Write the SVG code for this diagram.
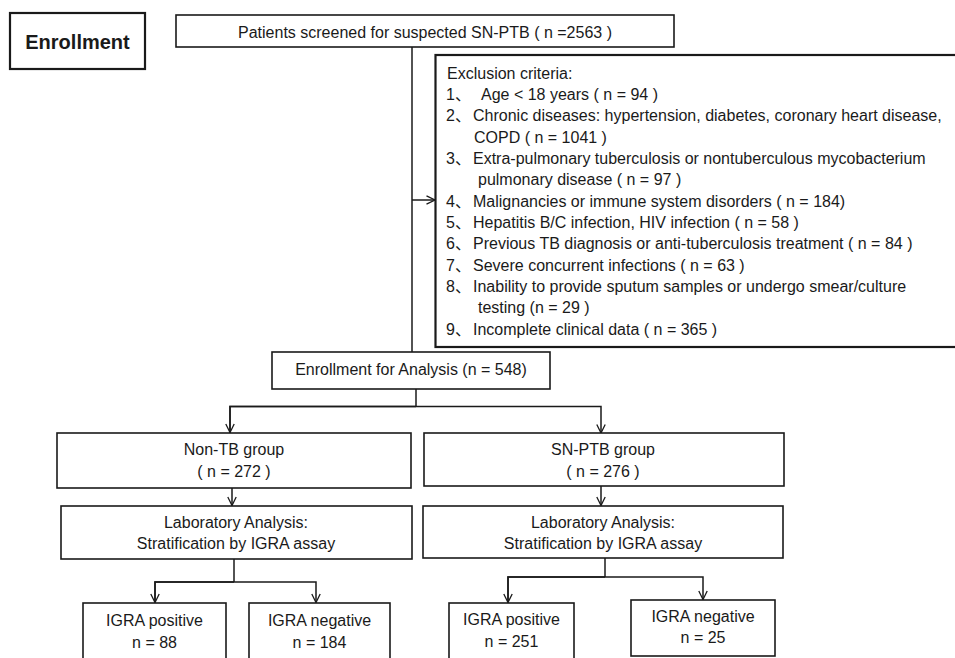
<svg xmlns="http://www.w3.org/2000/svg" width="955" height="658" viewBox="0 0 955 658">
<defs>
<style>
.box{fill:#fff;stroke:#1a1a1a;stroke-width:1.6}
.heavy{stroke-width:2.2}
.t{font-family:"Liberation Sans","Noto Sans CJK SC",Arial,sans-serif;font-size:16px;fill:#1a1a1a}
.c{text-anchor:middle}
.b{font-weight:bold;font-size:20px}
.ln{fill:none;stroke:#1a1a1a;stroke-width:1.5}
</style>
<marker id="arr" viewBox="0 0 10 10" refX="9.5" refY="5" markerWidth="10" markerHeight="10" markerUnits="userSpaceOnUse" orient="auto">
<path d="M1,0.8 L9.5,5 L1,9.2" fill="none" stroke="#1a1a1a" stroke-width="1.3"/>
</marker>
</defs>
<rect width="955" height="658" fill="#fff"/>

<g id="connectors">
<path class="ln" d="M412,47 V352"/>
<path class="ln" d="M412,200 H435" marker-end="url(#arr)"/>
<path class="ln" d="M416,389 V406.5"/>
<path class="ln" d="M230,433 V406.5 H601 V433" marker-end="url(#arr)"/>
<path class="ln" d="M416,406.5 H230 V432.5" marker-end="url(#arr)"/>
<path class="ln" d="M232,488 V505.5" marker-end="url(#arr)"/>
<path class="ln" d="M601,486 V505.5" marker-end="url(#arr)"/>
<path class="ln" d="M234,559 V582"/>
<path class="ln" d="M155,602.5 V582 H316 V602.5" marker-end="url(#arr)"/>
<path class="ln" d="M234,582 H155 V602.5" marker-end="url(#arr)"/>
<path class="ln" d="M605,558 V577"/>
<path class="ln" d="M508,602.5 V577 H703 V599.5" marker-end="url(#arr)"/>
<path class="ln" d="M605,577 H508 V602.5" marker-end="url(#arr)"/>
</g>

<g id="enrollment-label">
<rect class="box heavy" x="10" y="13" width="135" height="56"/>
<text class="t c b" x="77.5" y="49">Enrollment</text>
</g>

<g id="screened">
<rect class="box" x="176" y="15" width="498" height="32"/>
<text class="t c" x="425" y="37.5">Patients screened for suspected SN-PTB ( n =2563 )</text>
</g>

<g id="exclusion">
<rect class="box heavy" x="435.5" y="55" width="530" height="292"/>
<text class="t" x="447" y="78.5">Exclusion criteria:</text>
<text class="t" x="446" y="99.8">1、 <tspan x="481">Age &lt; 18 years ( n = 94 )</tspan></text>
<text class="t" x="446" y="121.2">2、<tspan x="473">Chronic diseases: hypertension, diabetes, coronary heart disease,</tspan></text>
<text class="t" x="474" y="142.5">COPD ( n = 1041 )</text>
<text class="t" x="446" y="163.8">3、<tspan x="473">Extra-pulmonary tuberculosis or nontuberculous mycobacterium</tspan></text>
<text class="t" x="478" y="185.2">pulmonary disease ( n = 97 )</text>
<text class="t" x="446" y="206.5">4、<tspan x="473">Malignancies or immune system disorders ( n = 184)</tspan></text>
<text class="t" x="446" y="227.8">5、<tspan x="473">Hepatitis B/C infection, HIV infection ( n = 58 )</tspan></text>
<text class="t" x="446" y="249.2">6、<tspan x="473">Previous TB diagnosis or anti-tuberculosis treatment ( n = 84 )</tspan></text>
<text class="t" x="446" y="270.5">7、<tspan x="473">Severe concurrent infections ( n = 63 )</tspan></text>
<text class="t" x="446" y="291.8">8、<tspan x="473">Inability to provide sputum samples or undergo smear/culture</tspan></text>
<text class="t" x="478" y="313.2">testing (n = 29 )</text>
<text class="t" x="446" y="334.5">9、<tspan x="473">Incomplete clinical data ( n = 365 )</tspan></text>
</g>

<g id="analysis">
<rect class="box" x="272" y="352" width="278" height="37"/>
<text class="t c" x="411" y="375">Enrollment for Analysis (n = 548)</text>
</g>

<g id="non-tb">
<rect class="box" x="57" y="433" width="354" height="55"/>
<text class="t c" x="234" y="455">Non-TB group</text>
<text class="t c" x="234" y="477">( n = 272 )</text>
</g>

<g id="sn-ptb">
<rect class="box" x="424" y="433" width="360" height="53"/>
<text class="t c" x="603" y="455">SN-PTB group</text>
<text class="t c" x="603" y="477">( n = 276 )</text>
</g>

<g id="lab-left">
<rect class="box" x="61" y="506" width="351" height="53"/>
<text class="t c" x="236" y="528">Laboratory Analysis:</text>
<text class="t c" x="236" y="549">Stratification by IGRA assay</text>
</g>

<g id="lab-right">
<rect class="box" x="423" y="506" width="360" height="52"/>
<text class="t c" x="603" y="528">Laboratory Analysis:</text>
<text class="t c" x="603" y="549">Stratification by IGRA assay</text>
</g>

<g id="igra-pos-left">
<rect class="box" x="83" y="603" width="143" height="70"/>
<text class="t c" x="154.5" y="625.5">IGRA positive</text>
<text class="t c" x="154.5" y="648">n = 88</text>
</g>

<g id="igra-neg-left">
<rect class="box" x="249" y="603" width="141" height="70"/>
<text class="t c" x="319.5" y="625.5">IGRA negative</text>
<text class="t c" x="319.5" y="648">n = 184</text>
</g>

<g id="igra-pos-right">
<rect class="box" x="449" y="603" width="125" height="70"/>
<text class="t c" x="511.5" y="625">IGRA positive</text>
<text class="t c" x="511.5" y="647">n = 251</text>
</g>

<g id="igra-neg-right">
<rect class="box" x="631" y="600" width="144" height="56"/>
<text class="t c" x="703" y="622">IGRA negative</text>
<text class="t c" x="703" y="643">n = 25</text>
</g>
</svg>
